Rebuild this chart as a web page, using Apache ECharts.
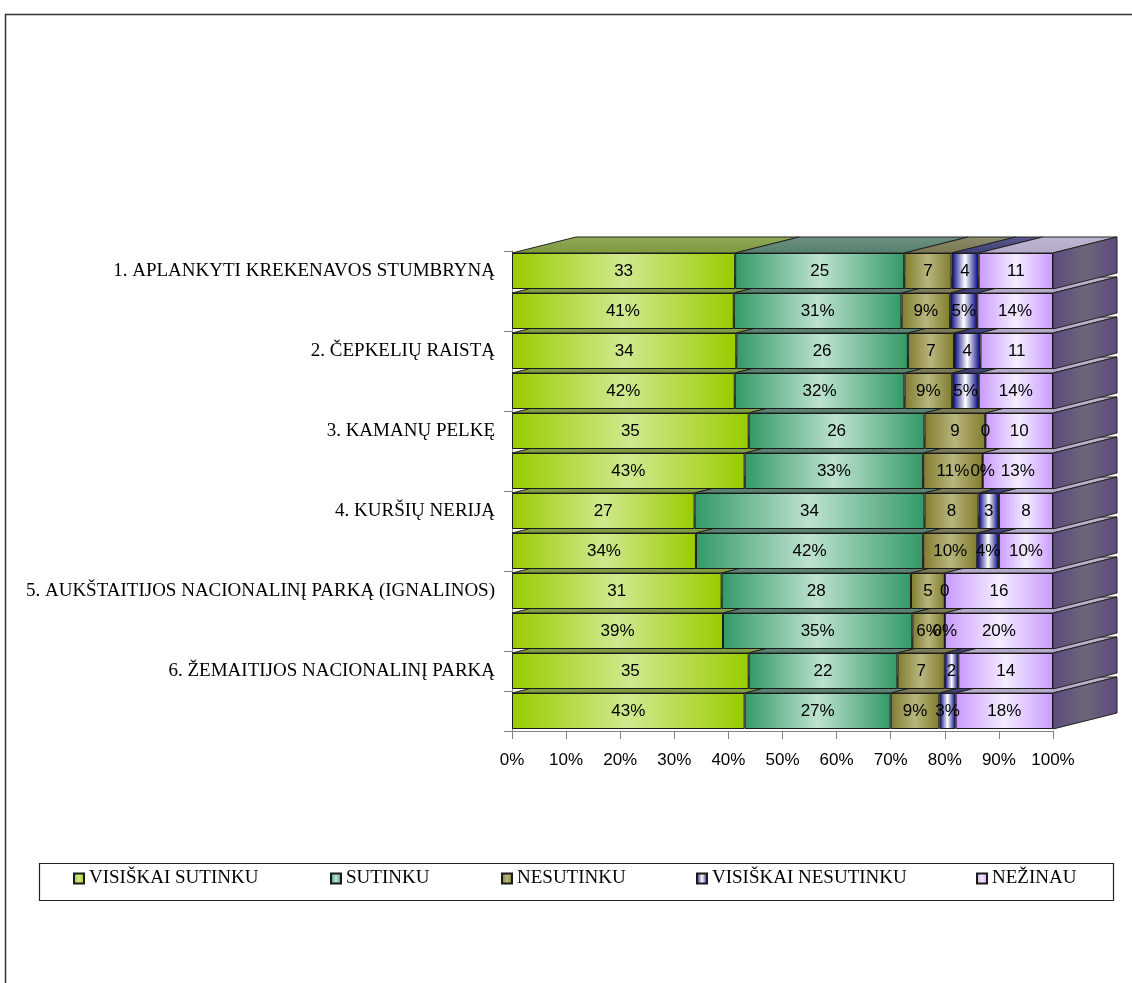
<!DOCTYPE html>
<html>
<head>
<meta charset="utf-8">
<script src="https://cdn.jsdelivr.net/npm/echarts@6/dist/echarts.min.js"></script>
<style>
  html, body { margin: 0; padding: 0; background: #fff; }
  #chart { width: 1132px; height: 983px; }
</style>
</head>
<body>
<div id="chart"></div>
<script>
// parks (each park has a count row and a percent row)
const parks = [
  '1. APLANKYTI KREKENAVOS STUMBRYNĄ',
  '2. ČEPKELIŲ RAISTĄ',
  '3. KAMANŲ PELKĘ',
  '4. KURŠIŲ NERIJĄ',
  '5. AUKŠTAITIJOS NACIONALINĮ PARKĄ (IGNALINOS)',
  '6. ŽEMAITIJOS NACIONALINĮ PARKĄ'
];
const answers = ['VISIŠKAI SUTINKU', 'SUTINKU', 'NESUTINKU', 'VISIŠKAI NESUTINKU', 'NEŽINAU'];

// number of answers, per park
const countRows = [
  [33, 25, 7, 4, 11],
  [34, 26, 7, 4, 11],
  [35, 26, 9, 0, 10],
  [27, 34, 8, 3, 8],
  [31, 28, 5, 0, 16],
  [35, 22, 7, 2, 14]
];
// same in percent
const percentRows = [
  [41, 31, 9, 5, 14],
  [42, 32, 9, 5, 14],
  [43, 33, 11, 0, 13],
  [34, 42, 10, 4, 10],
  [39, 35, 6, 0, 20],
  [43, 27, 9, 3, 18]
];

// colours: front face edge, front face centre, top face
const faceColors = [
  { base: '#99cc00', light: '#cfe98f', top: '#7d9a3c' },
  { base: '#339966', light: '#bde2cf', top: '#557f6d' },
  { base: '#807c2e', light: '#b8b67e', top: '#7a7852' },
  { base: '#000080', light: '#ffffff', top: '#3e3e7a' },
  { base: '#c99aff', light: '#f4ecff', top: '#b4a8c8' }
];

// 12 rows: count row, then percent row for each park
const rows = [];
parks.forEach(function (p, i) {
  rows.push({ name: p, vals: countRows[i], pct: false });
  rows.push({ name: p + ' %', vals: percentRows[i], pct: true });
});
// 100% stacked shares
const shares = rows.map(function (r) {
  const total = r.vals.reduce(function (a, b) { return a + b; }, 0);
  return r.vals.map(function (v) { return v / total * 100; });
});

const DX = 64, DY = -16; // 3d depth of the bars

let myChart = echarts.init(document.getElementById('chart'));

function frontGradient(c) {
  return new echarts.graphic.LinearGradient(0, 0, 1, 0, [
    { offset: 0, color: c.base },
    { offset: 0.5, color: c.light },
    { offset: 1, color: c.base }
  ]);
}

let series = answers.map(function (a, j) {
  return {
    name: a,
    type: 'bar',
    stack: 'all',
    barWidth: '90%',
    z: 3,
    data: shares.map(function (s) { return s[j]; }),
    itemStyle: {
      color: frontGradient(faceColors[j]),
      borderColor: '#1a1a1a',
      borderWidth: 1
    },
    label: {
      show: true,
      position: 'inside',
      color: '#000',
      fontFamily: 'Liberation Sans',
      fontSize: 17,
      formatter: function (p) {
        const r = rows[p.dataIndex];
        return r.pct ? r.vals[j] + '%' : String(r.vals[j]);
      }
    }
  };
});

// top and right side faces of the 3d bars
series.push({
  name: 'depth',
  type: 'custom',
  z: 1,
  silent: true,
  clip: false,
  encode: { x: 0, y: 1 },
  data: rows.map(function (r, i) { return [0, i]; }).reverse(),
  renderItem: function (params, api) {
    const row = api.value(1);
    const s = shares[row];
    const c = api.coord([0, row]);
    const h = api.size([0, 1])[1] * 0.9;
    const top = c[1] - h / 2, bot = c[1] + h / 2;
    const z2 = rows.length - row;
    const children = [];
    let cum = 0;
    for (let j = 0; j < s.length; j++) {
      const x0 = api.coord([cum, row])[0];
      cum += s[j];
      const x1 = api.coord([cum, row])[0];
      if (x1 - x0 < 0.5) continue;
      children.push({
        type: 'polygon',
        z2: z2,
        shape: { points: [[x0, top], [x1, top], [x1 + DX, top + DY], [x0 + DX, top + DY]] },
        style: {
          fill: new echarts.graphic.LinearGradient(0, 1, 0, 0, [
            { offset: 0, color: faceColors[j].top },
            { offset: 1, color: echarts.color.lift(faceColors[j].top, 0.15) }
          ]),
          stroke: '#222',
          lineWidth: 1
        }
      });
    }
    const xr = api.coord([100, row])[0];
    children.push({
      type: 'polygon',
      z2: z2,
      shape: { points: [[xr, top], [xr + DX, top + DY], [xr + DX, bot + DY], [xr, bot]] },
      style: {
        fill: new echarts.graphic.LinearGradient(0, 0, 1, 0, [
          { offset: 0, color: '#5d4a7e' },
          { offset: 0.5, color: '#6d667a' },
          { offset: 1, color: '#5d4a7e' }
        ]),
        stroke: '#222',
        lineWidth: 1
      }
    });
    return { type: 'group', children: children };
  }
});

const legendLefts = [73, 330, 501, 696, 976];

let option = {
  animation: false,
  backgroundColor: '#fff',
  grid: { left: 512, top: 251, width: 541, height: 480 },
  xAxis: {
    type: 'value',
    min: 0,
    max: 100,
    interval: 10,
    axisLine: { show: true, lineStyle: { color: '#808080' } },
    axisTick: { show: true, length: 8, lineStyle: { color: '#808080' } },
    splitLine: { show: false },
    axisLabel: {
      margin: 21,
      color: '#000',
      fontFamily: 'Liberation Sans',
      fontSize: 17,
      formatter: '{value}%'
    }
  },
  yAxis: {
    type: 'category',
    inverse: true,
    data: rows.map(function (r) { return r.name; }),
    axisLine: { show: true, lineStyle: { color: '#808080' } },
    axisTick: { show: true, interval: 1, length: 8, lineStyle: { color: '#808080' } },
    axisLabel: {
      interval: 0,
      margin: 17,
      color: '#000',
      fontFamily: 'Liberation Serif',
      fontSize: 19,
      formatter: function (v, i) { return rows[i].pct ? '' : v; }
    }
  },
  legend: answers.map(function (a, j) {
    return {
      data: [a],
      left: legendLefts[j],
      top: 869,
      padding: 0,
      itemWidth: 10,
      itemHeight: 10,
      icon: 'rect',
      selectedMode: false,
      textStyle: { color: '#000', fontFamily: 'Liberation Serif', fontSize: 19 }
    };
  }),
  graphic: [
    {
      type: 'rect',
      left: 3,
      top: 12,
      shape: { width: 1200, height: 1050 },
      style: { fill: 'none', stroke: '#333', lineWidth: 1.5 }
    },
    {
      type: 'rect',
      left: 37,
      top: 861,
      shape: { width: 1074, height: 37 },
      style: { fill: 'none', stroke: '#222', lineWidth: 1.2 }
    }
  ],
  series: series
};

myChart.setOption(option);
</script>
</body>
</html>
